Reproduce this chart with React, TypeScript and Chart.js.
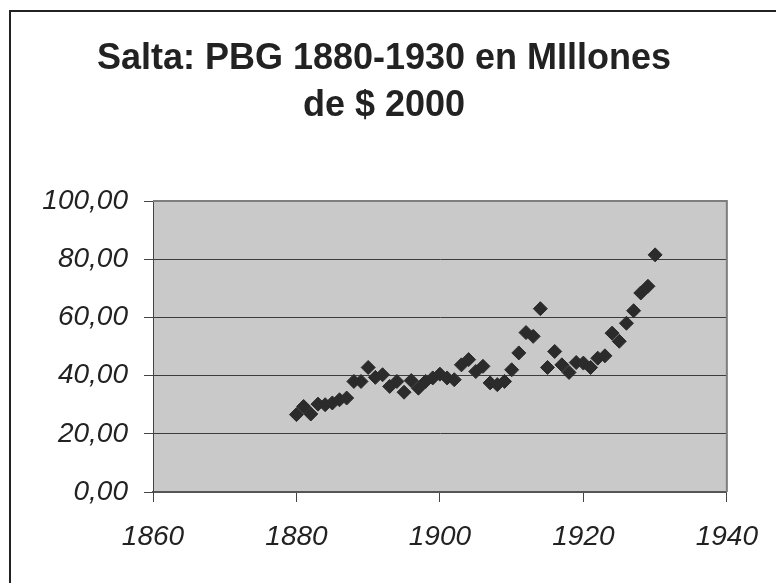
import React, { useEffect, useRef } from "react";
import { Chart, registerables } from "chart.js";

Chart.register(...registerables);

const years = [
  1880, 1881, 1882, 1883, 1884, 1885, 1886, 1887, 1888, 1889,
  1890, 1891, 1892, 1893, 1894, 1895, 1896, 1897, 1898, 1899,
  1900, 1901, 1902, 1903, 1904, 1905, 1906, 1907, 1908, 1909,
  1910, 1911, 1912, 1913, 1914, 1915, 1916, 1917, 1918, 1919,
  1920, 1921, 1922, 1923, 1924, 1925, 1926, 1927, 1928, 1929,
  1930,
];
const pbg = [
  26.6, 29.4, 26.8, 30.2, 30.0, 30.6, 31.7, 32.3, 38.0, 38.0,
  42.8, 39.4, 40.3, 36.3, 38.0, 34.3, 38.3, 35.7, 38.0, 39.2,
  40.5, 39.2, 38.6, 43.7, 45.5, 41.4, 43.2, 37.5, 36.9, 38.0,
  42.0, 47.8, 54.8, 53.5, 63.0, 42.8, 48.3, 43.7, 41.1, 44.5,
  44.3, 42.8, 46.0, 46.8, 54.6, 51.8, 58.0, 62.3, 68.4, 70.7,
  81.5,
];
const xTicks = [1860, 1880, 1900, 1920, 1940];
const yTicks = [0, 20, 40, 60, 80, 100];
const yTickLabels = ["0,00", "20,00", "40,00", "60,00", "80,00", "100,00"];
const titleLines = ["Salta: PBG 1880-1930 en MIllones", "de $ 2000"];

const FONT = "'Liberation Sans', Arial, Helvetica, sans-serif";

const plotBg = {
  id: "plotBg",
  beforeDraw(chart: any) {
    const { ctx, chartArea: a } = chart;
    ctx.save();
    ctx.fillStyle = "#c9c9ca";
    ctx.fillRect(a.left, a.top, a.right - a.left, a.bottom - a.top);
    ctx.restore();
  },
  beforeDatasetsDraw(chart: any) {
    const { ctx, chartArea: a } = chart;
    ctx.save();
    ctx.strokeStyle = "#7e7e7e";
    ctx.lineWidth = 2;
    ctx.beginPath();
    ctx.moveTo(a.left, a.top);
    ctx.lineTo(a.right, a.top);
    ctx.lineTo(a.right, a.bottom);
    ctx.stroke();
    ctx.restore();
  },
};

export default function App() {
  const ref = useRef<HTMLCanvasElement | null>(null);

  useEffect(() => {
    if (!ref.current) return;
    const data = years.map((y, i) => ({ x: y, y: pbg[i] }));
    const chart = new Chart(ref.current, {
      type: "scatter",
      data: {
        datasets: [
          {
            data,
            pointStyle: "rectRot",
            pointRadius: 7,
            pointBorderWidth: 1,
            backgroundColor: "#2b2b2b",
            borderColor: "#2b2b2b",
            showLine: false,
          },
        ],
      },
      options: {
        animation: false,
        responsive: false,
        devicePixelRatio: 1,
        layout: { padding: { left: 40, right: 48, top: 0, bottom: 0 } },
        plugins: {
          legend: { display: false },
          tooltip: { enabled: false },
          title: {
            display: true,
            text: titleLines,
            color: "#222",
            font: { family: FONT, size: 36, weight: "bold", lineHeight: 1.32 },
            padding: { top: 35, bottom: 71 },
          },
        },
        scales: {
          x: {
            type: "linear",
            min: 1860,
            max: 1940,
            afterBuildTicks: (s: any) => {
              s.ticks = xTicks.map((v) => ({ value: v }));
            },
            afterFit: (s: any) => {
              s.height = 91;
            },
            ticks: {
              callback: (v: any) => String(v),
              color: "#222",
              font: { family: FONT, size: 28, style: "italic", lineHeight: 1.2 },
              padding: 18,
              maxRotation: 0,
              autoSkip: false,
            },
            grid: {
              drawOnChartArea: false,
              drawTicks: true,
              tickLength: 10,
              tickColor: "#444",
              tickWidth: 1,
            },
            border: { display: true, color: "#555", width: 2 },
          },
          y: {
            type: "linear",
            min: 0,
            max: 100,
            afterBuildTicks: (s: any) => {
              s.ticks = yTicks.map((v) => ({ value: v }));
            },
            afterFit: (s: any) => {
              s.width = 113;
            },
            ticks: {
              callback: (v: any) => {
                const i = yTicks.indexOf(Number(v));
                return i >= 0 ? yTickLabels[i] : "";
              },
              color: "#222",
              font: { family: FONT, size: 28, style: "italic", lineHeight: 1.2 },
              padding: 16,
            },
            grid: {
              color: (c: any) => (c.tick && c.tick.value === 100 ? "#7e7e7e" : "#3c3c3c"),
              lineWidth: 1,
              drawTicks: true,
              tickLength: 9,
              tickColor: "#444",
            },
            border: { display: true, color: "#444", width: 1 },
          },
        },
      },
      plugins: [plotBg],
    });
    return () => chart.destroy();
  }, []);

  return (
    <div
      style={{
        position: "fixed",
        left: 0,
        top: 0,
        width: 776,
        height: 583,
        overflow: "hidden",
        background: "#fff",
      }}
    >
      <div
        style={{
          position: "absolute",
          left: 9,
          top: 10,
          width: 900,
          height: 900,
          borderLeft: "2px solid #222",
          borderTop: "2px solid #222",
        }}
      />
      <canvas
        ref={ref}
        width={776}
        height={583}
        style={{ position: "absolute", left: 0, top: 0, width: 776, height: 583 }}
      />
    </div>
  );
}
